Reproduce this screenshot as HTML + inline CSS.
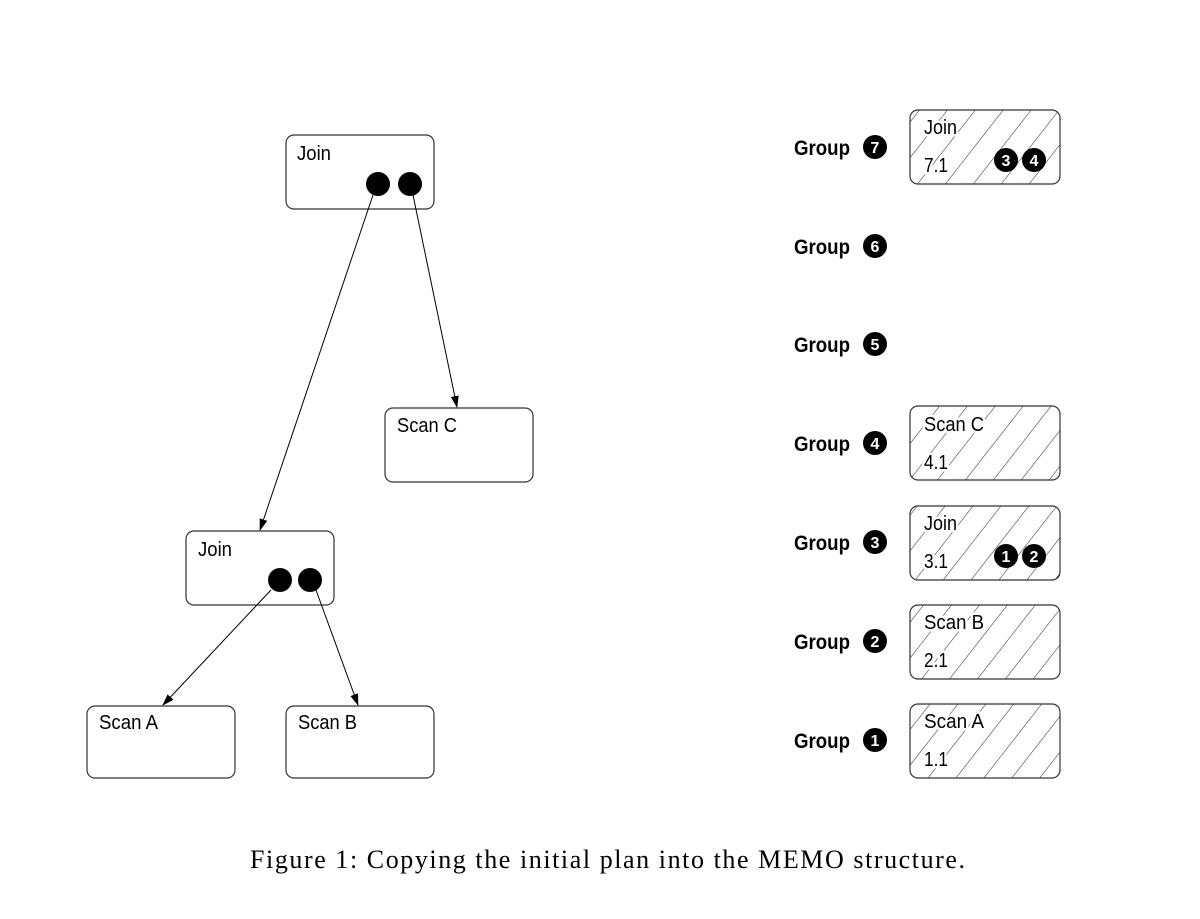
<!DOCTYPE html>
<html><head><meta charset="utf-8"><style>
html,body{margin:0;padding:0;background:#fff;width:1200px;height:919px;overflow:hidden}
svg{display:block}
.s{font-family:"Liberation Sans",sans-serif;font-size:20px;fill:#000}
.g{font-family:"Liberation Sans",sans-serif;font-size:21px;font-weight:bold;fill:#000}
.h{font-family:"Liberation Sans",sans-serif;font-size:20px;fill:#000;stroke:#fff;stroke-width:5px;paint-order:stroke}
.n{font-family:"Liberation Sans",sans-serif;font-size:16px;font-weight:bold;fill:#fff;text-anchor:middle}
</style></head><body>
<svg width="1200" height="919" viewBox="0 0 1200 919" xmlns="http://www.w3.org/2000/svg">
<defs>
<pattern id="hp" patternUnits="userSpaceOnUse" width="22" height="22" patternTransform="rotate(38)">
<line x1="0" y1="0" x2="0" y2="22" stroke="#333" stroke-width="1.1"/>
</pattern>
<marker id="ar" markerWidth="12" markerHeight="8" refX="11" refY="4" orient="auto" markerUnits="userSpaceOnUse">
<path d="M0,0 L12,4 L0,8 z" fill="#000"/>
</marker>
</defs>
<g fill="#fff" stroke="#333" stroke-width="1.2">
<rect x="286" y="135" width="148" height="74" rx="8"/>
<rect x="385" y="408" width="148" height="74" rx="8"/>
<rect x="186" y="531" width="148" height="74" rx="8"/>
<rect x="87" y="706" width="148" height="72" rx="8"/>
<rect x="286" y="706" width="148" height="72" rx="8"/>
</g>
<text class="s" x="297" y="160" textLength="34" lengthAdjust="spacingAndGlyphs">Join</text>
<text class="s" x="397" y="432" textLength="60" lengthAdjust="spacingAndGlyphs">Scan C</text>
<text class="s" x="198" y="556" textLength="34" lengthAdjust="spacingAndGlyphs">Join</text>
<text class="s" x="99" y="729" textLength="59" lengthAdjust="spacingAndGlyphs">Scan A</text>
<text class="s" x="298" y="729" textLength="59" lengthAdjust="spacingAndGlyphs">Scan B</text>
<g fill="#000">
<circle cx="378" cy="184" r="12"/><circle cx="410" cy="184" r="12"/>
<circle cx="280" cy="580" r="12"/><circle cx="310" cy="580" r="12"/>
</g>
<g stroke="#000" stroke-width="1" marker-end="url(#ar)">
<line x1="373" y1="195" x2="260" y2="530"/>
<line x1="413" y1="195" x2="457" y2="407"/>
<line x1="271" y1="590" x2="163" y2="705"/>
<line x1="316" y1="590" x2="358" y2="705"/>
</g>
<g stroke="#333" stroke-width="1.2" fill="url(#hp)">
<rect x="910" y="110" width="150" height="74" rx="8"/>
<rect x="910" y="406" width="150" height="74" rx="8"/>
<rect x="910" y="506" width="150" height="74" rx="8"/>
<rect x="910" y="605" width="150" height="74" rx="8"/>
<rect x="910" y="704" width="150" height="74" rx="8"/>
</g>
<text class="h" x="924" y="134" textLength="33" lengthAdjust="spacingAndGlyphs">Join</text><text class="h" x="924" y="172" textLength="24" lengthAdjust="spacingAndGlyphs">7.1</text>
<text class="h" x="924" y="431" textLength="60" lengthAdjust="spacingAndGlyphs">Scan C</text><text class="h" x="924" y="469" textLength="24" lengthAdjust="spacingAndGlyphs">4.1</text>
<text class="h" x="924" y="530" textLength="33" lengthAdjust="spacingAndGlyphs">Join</text><text class="h" x="924" y="568" textLength="24" lengthAdjust="spacingAndGlyphs">3.1</text>
<text class="h" x="924" y="629" textLength="60" lengthAdjust="spacingAndGlyphs">Scan B</text><text class="h" x="924" y="667" textLength="24" lengthAdjust="spacingAndGlyphs">2.1</text>
<text class="h" x="924" y="728" textLength="60" lengthAdjust="spacingAndGlyphs">Scan A</text><text class="h" x="924" y="766" textLength="24" lengthAdjust="spacingAndGlyphs">1.1</text>
<g fill="#000">
<circle cx="1006" cy="160" r="12"/><circle cx="1034" cy="160" r="12"/>
<circle cx="1006" cy="556" r="12"/><circle cx="1034" cy="556" r="12"/>
</g>
<text class="n" x="1006" y="166">3</text><text class="n" x="1034" y="166">4</text>
<text class="n" x="1006" y="562">1</text><text class="n" x="1034" y="562">2</text>
<g>
<text class="g" x="794" y="155" textLength="56" lengthAdjust="spacingAndGlyphs">Group</text><circle cx="875" cy="147" r="12"/><text class="n" x="875" y="153">7</text>
<text class="g" x="794" y="254" textLength="56" lengthAdjust="spacingAndGlyphs">Group</text><circle cx="875" cy="246" r="12"/><text class="n" x="875" y="252">6</text>
<text class="g" x="794" y="352" textLength="56" lengthAdjust="spacingAndGlyphs">Group</text><circle cx="875" cy="344" r="12"/><text class="n" x="875" y="350">5</text>
<text class="g" x="794" y="451" textLength="56" lengthAdjust="spacingAndGlyphs">Group</text><circle cx="875" cy="443" r="12"/><text class="n" x="875" y="449">4</text>
<text class="g" x="794" y="550" textLength="56" lengthAdjust="spacingAndGlyphs">Group</text><circle cx="875" cy="542" r="12"/><text class="n" x="875" y="548">3</text>
<text class="g" x="794" y="649" textLength="56" lengthAdjust="spacingAndGlyphs">Group</text><circle cx="875" cy="641" r="12"/><text class="n" x="875" y="647">2</text>
<text class="g" x="794" y="748" textLength="56" lengthAdjust="spacingAndGlyphs">Group</text><circle cx="875" cy="740" r="12"/><text class="n" x="875" y="746">1</text>
</g>
<text x="250" y="868" textLength="715" lengthAdjust="spacing" font-family="Liberation Serif, serif" font-size="26" fill="#000">Figure 1: Copying the initial plan into the MEMO structure.</text>
</svg>
</body></html>
